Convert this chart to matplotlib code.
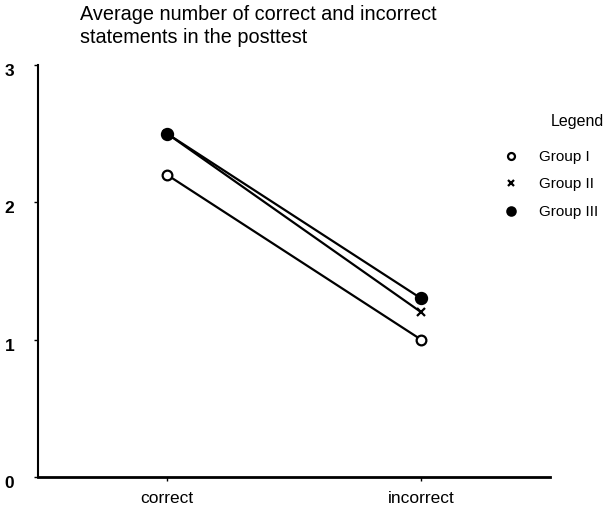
import numpy as np
import matplotlib
matplotlib.use("Agg")
import matplotlib.pyplot as plt
import matplotlib.transforms as mtransforms
from matplotlib.lines import Line2D

plt.rcParams['font.family'] = ['Liberation Sans', 'DejaVu Sans']

# data
categories = ['correct', 'incorrect']
groups = ['Group I', 'Group II', 'Group III']
group1 = [2.2, 1.0]
group2 = [2.5, 1.2]
group3 = [2.5, 1.3]
markers = ['o', 'x', 'o']
fills = ['white', 'black', 'black']
msizes = [7, 6, 8]
title_lines = ['Average number of correct and incorrect', 'statements in the posttest']

fig = plt.figure(figsize=(6.08, 5.10), dpi=100)
ax = fig.add_axes([0.0625, 0.0627, 0.8425, 0.808])

x = np.arange(len(categories))
for vals, m, fc, ms in zip([group1, group2, group3], markers, fills, msizes):
    ax.plot(x, vals, color='black', lw=1.6, marker=m, markersize=ms,
            markerfacecolor=fc, markeredgecolor='black', markeredgewidth=1.6)

ax.set_xlim(-0.508, 1.508)
ax.set_ylim(0, 3)
ax.set_yticks([0, 1, 2, 3])
ax.set_xticks(x)
ax.set_xticklabels(categories, fontsize=12.5)
ax.tick_params(axis='y', length=3, width=1, pad=14, labelsize=12.5)
ax.tick_params(axis='x', length=3, width=1, pad=6)
# labels sit a little below their ticks in the original
shift = mtransforms.ScaledTranslation(0, -4 / 100, fig.dpi_scale_trans)
for lab in ax.get_yticklabels():
    lab.set_fontweight('bold')
    lab.set_transform(lab.get_transform() + shift)
ax.spines['top'].set_visible(False)
ax.spines['right'].set_visible(False)
ax.spines['left'].set_linewidth(1.5)
ax.spines['bottom'].set_linewidth(2)

# two-line title, baselines placed separately
for line, yy in zip(title_lines, [0.961, 0.9157]):
    fig.text(0.132, yy, line, fontsize=14.3, va='baseline', ha='left')

# legend drawn by hand
fig.text(0.993, 0.762, 'Legend', fontsize=11.5, ha='right', va='center')
ly = [0.692, 0.639, 0.584]
for g, m, fc, ms, yy in zip(groups, markers, fills, [5, 5, 6], ly):
    fig.add_artist(Line2D([0.840], [yy], marker=m, markersize=ms, color='black',
                          markerfacecolor=fc, markeredgewidth=1.6, transform=fig.transFigure))
    fig.text(0.886, yy, g, fontsize=11, ha='left', va='center')

fig.savefig('out.png', dpi=100)
